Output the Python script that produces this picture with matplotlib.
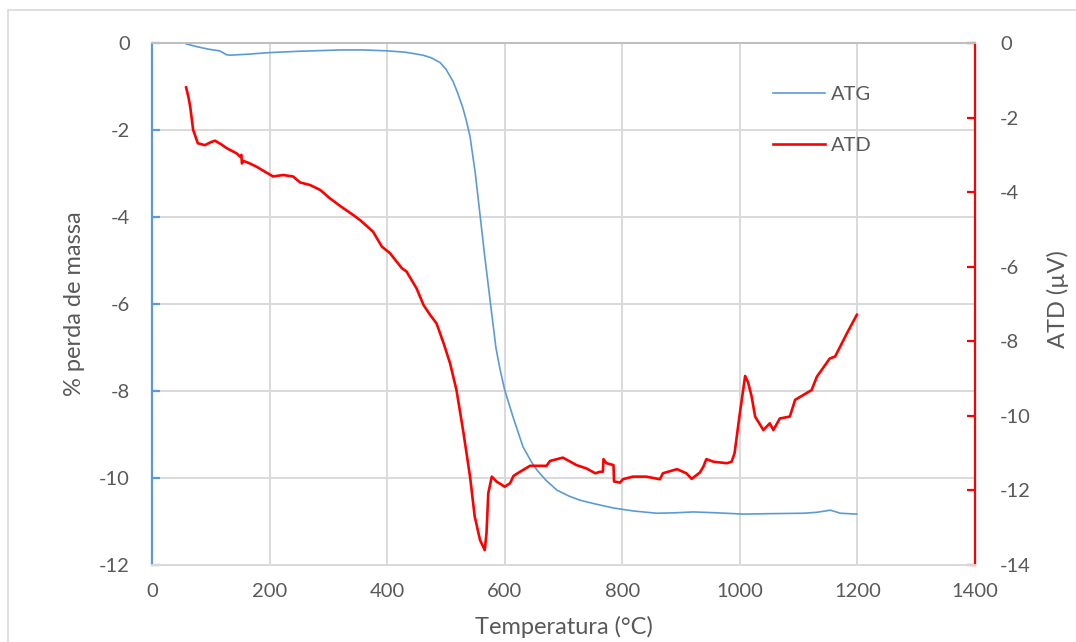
import matplotlib
matplotlib.use("Agg")
import matplotlib.pyplot as plt
from matplotlib.patches import Rectangle

# Temperature (°C) and mass-loss (%) for the thermogravimetric curve
atg_temp = [58, 75, 95, 115, 127, 133, 160, 201, 250, 320, 360, 399, 430, 461,
            475, 490, 500, 512, 520, 529, 535, 541, 550, 558, 566, 575, 585,
            592, 600, 614, 631, 645, 655, 670, 689, 710, 728, 755, 785, 820,
            859, 890, 921, 960, 1006, 1050, 1108, 1130, 1154, 1171, 1199]
atg_mass = [-0.02, -0.08, -0.14, -0.18, -0.27, -0.28, -0.26, -0.22, -0.19,
            -0.16, -0.16, -0.18, -0.21, -0.28, -0.34, -0.45, -0.60, -0.88,
            -1.15, -1.50, -1.80, -2.15, -3.00, -3.95, -4.90, -5.90, -7.00,
            -7.50, -7.98, -8.59, -9.28, -9.62, -9.82, -10.05, -10.28, -10.42,
            -10.51, -10.60, -10.69, -10.76, -10.81, -10.80, -10.78, -10.80,
            -10.83, -10.82, -10.81, -10.79, -10.74, -10.81, -10.83]

# Temperature (°C) and differential signal (µV) for the thermal analysis curve
atd_temp = [58, 62, 65, 70, 78, 90, 100, 107, 118, 127, 144, 150, 152, 153,
            155, 165, 178, 192, 206, 223, 240, 252, 269, 286, 303, 320, 342,
            354, 376, 391, 405, 425, 433, 450, 462, 473, 484, 496, 507, 518,
            530, 541, 549, 558, 566, 569, 572, 578, 586, 600, 609, 615, 626,
            643, 671, 677, 699, 722, 739, 754, 762, 767, 768, 773, 785, 786,
            796, 801, 818, 841, 864, 869, 893, 909, 918, 932, 938, 943, 955,
            978, 986, 991, 1000, 1009, 1014, 1020, 1026, 1040, 1051, 1057,
            1068, 1085, 1094, 1108, 1122, 1131, 1153, 1162, 1182, 1199]
atd_signal = [-1.19, -1.45, -1.71, -2.33, -2.69, -2.74, -2.66, -2.62, -2.72,
              -2.82, -2.96, -3.05, -3.00, -3.23, -3.16, -3.22, -3.32, -3.45,
              -3.58, -3.54, -3.58, -3.74, -3.81, -3.94, -4.17, -4.37, -4.61,
              -4.75, -5.06, -5.46, -5.64, -6.04, -6.13, -6.58, -7.03, -7.29,
              -7.52, -8.05, -8.59, -9.31, -10.47, -11.63, -12.70, -13.33,
              -13.60, -13.15, -12.08, -11.63, -11.76, -11.90, -11.81, -11.61,
              -11.50, -11.34, -11.34, -11.21, -11.12, -11.32, -11.41, -11.54,
              -11.50, -11.50, -11.16, -11.27, -11.32, -11.76, -11.79, -11.70,
              -11.63, -11.63, -11.70, -11.54, -11.43, -11.54, -11.69, -11.52,
              -11.36, -11.16, -11.23, -11.27, -11.23, -11.00, -9.93, -8.93,
              -9.10, -9.48, -10.02, -10.38, -10.20, -10.38, -10.07, -10.02,
              -9.57, -9.44, -9.31, -8.95, -8.46, -8.41, -7.79, -7.29]

x_ticks = [0, 200, 400, 600, 800, 1000, 1200, 1400]
left_ticks = [0, -2, -4, -6, -8, -10, -12]
right_ticks = [0, -2, -4, -6, -8, -10, -12, -14]

BLUE = "#5B9BD5"
RED = "#FF0000"
TEXT = "#595959"
GRID = "#D9D9D9"

plt.rcParams["font.family"] = ["Lato", "DejaVu Sans"]
plt.rcParams["font.size"] = 14.5
plt.rcParams["axes.unicode_minus"] = False

fig = plt.figure(figsize=(10.76, 6.42), dpi=100)
fig.patches.append(Rectangle((8 / 1076, -0.01), 1.1, 1 - 10 / 642 + 0.01,
                             transform=fig.transFigure, fill=False,
                             edgecolor=GRID, linewidth=1.2))

ax = fig.add_axes([152 / 1076, 77 / 642, 823 / 1076, 522 / 642])
ax2 = ax.twinx()

line_atg, = ax.plot(atg_temp, atg_mass, color=BLUE, linewidth=1.2, label="ATG")
line_atd, = ax2.plot(atd_temp, atd_signal, color=RED, linewidth=1.9, label="ATD")

ax.set_xlim(0, 1400)
ax.set_ylim(-12, 0)
ax2.set_ylim(-14, 0)
ax.set_xticks(x_ticks)
ax.set_yticks(left_ticks)
ax2.set_yticks(right_ticks)

ax.grid(True, color=GRID, linewidth=1.4)
ax.set_axisbelow(True)

for a in (ax, ax2):
    a.spines["top"].set_color("#BFBFBF")
    a.spines["top"].set_linewidth(1.4)
    a.spines["bottom"].set_color(GRID)
    a.spines["bottom"].set_linewidth(1.4)
ax.spines["left"].set_color(BLUE)
ax.spines["left"].set_linewidth(1.6)
ax.spines["right"].set_visible(False)
ax2.spines["left"].set_visible(False)
ax2.spines["right"].set_color(RED)
ax2.spines["right"].set_linewidth(1.6)

ax.tick_params(axis="x", length=0, pad=13, labelcolor=TEXT)
ax.tick_params(axis="y", direction="in", length=6, width=1.6, color=BLUE,
               pad=16, labelcolor=TEXT)
ax2.tick_params(axis="y", direction="in", length=5.5, width=1.6, color=RED,
                pad=18, labelcolor=TEXT)

ax.set_xlabel("Temperatura (°C)", color=TEXT, fontsize=17)
ax.xaxis.set_label_coords(0.5, -0.098)
ax.set_ylabel("% perda de massa", color=TEXT, va="center", fontsize=17)
ax.yaxis.set_label_coords(-0.094, 0.5)
ax2.set_ylabel("ATD (µV)", color=TEXT, va="center", rotation=90, fontsize=17)
ax2.yaxis.set_label_coords(1.101, 0.51)

ax2.legend(handles=[line_atg, line_atd], loc="upper left", frameon=False,
           bbox_to_anchor=(773 / 1076, 1 - 86 / 642),
           bbox_transform=fig.transFigure, borderpad=0, borderaxespad=0,
           handlelength=2.6, handletextpad=0.3, labelspacing=1.68,
           labelcolor=TEXT)

fig.savefig("out.png", dpi=100)
